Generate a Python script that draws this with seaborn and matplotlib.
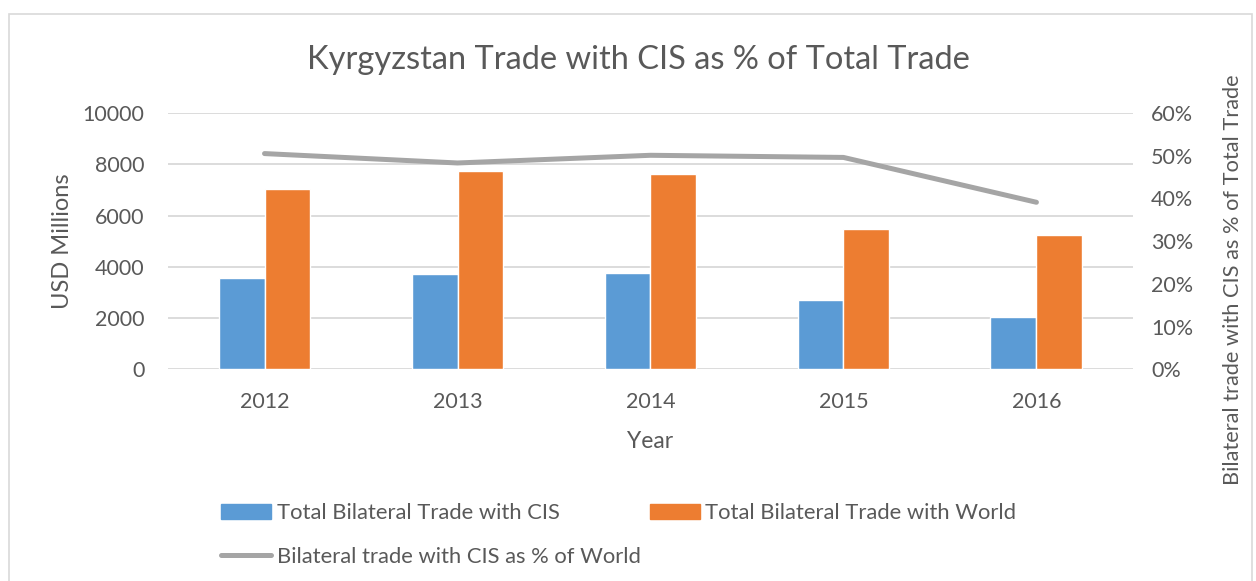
import matplotlib.pyplot as plt
import seaborn as sns
import pandas as pd
from matplotlib.patches import Rectangle
from matplotlib.ticker import PercentFormatter

# Data
years = ["2012", "2013", "2014", "2015", "2016"]
cis_trade = [3555, 3711, 3773, 2695, 2031]
world_trade = [7043, 7746, 7617, 5492, 5234]
cis_share = [50.5, 48.3, 50.1, 49.6, 39.1]

series_names = ["Total Bilateral Trade with CIS", "Total Bilateral Trade with World"]
line_name = "Bilateral trade with CIS as % of World"
colors = ["#5B9BD5", "#ED7D31"]
line_color = "#A5A5A5"
text_color = "#595959"

sns.set_theme(style="white")
plt.rcParams["font.family"] = ["Lato", "DejaVu Sans"]

df = pd.DataFrame({
    "Year": years * 2,
    "Value": cis_trade + world_trade,
    "Series": [series_names[0]] * len(years) + [series_names[1]] * len(years),
})

fig = plt.figure(figsize=(12.56, 5.81), dpi=100)
ax = fig.add_axes([0.1338, 0.3644, 0.7682, 0.4411])

sns.barplot(data=df, x="Year", y="Value", hue="Series", palette=colors,
            width=0.476, ax=ax, legend=False, saturation=1)

ax.set_ylim(0, 10000)
ax.set_yticks(range(0, 10001, 2000))
ax.set_xlim(-0.5, 4.5)
ax.grid(axis="y", color="#D9D9D9", linewidth=1.3)
ax.set_axisbelow(True)
for s in ax.spines.values():
    s.set_visible(False)
ax.tick_params(axis="y", length=0, pad=17, labelsize=15.5, labelcolor=text_color)
ax.tick_params(axis="x", length=0, pad=16, labelsize=15.5, labelcolor=text_color)

# secondary axis with percentage line
ax2 = ax.twinx()
sns.pointplot(x=years, y=cis_share, ax=ax2, color=line_color, markers="",
              linewidth=3.6, errorbar=None)
for ln in ax2.lines:
    ln.set_solid_capstyle("round")
    ln.set_solid_joinstyle("round")
ax2.set_ylim(0, 60)
ax2.set_yticks(range(0, 61, 10))
ax2.yaxis.set_major_formatter(PercentFormatter(decimals=0))
ax2.set_xlim(-0.5, 4.5)
for s in ax2.spines.values():
    s.set_visible(False)
ax2.tick_params(axis="y", length=0, pad=13, labelsize=15.5, labelcolor=text_color)
ax2.grid(False)

ax.set_xlabel("Year", fontsize=16.5, color=text_color, labelpad=14)
ax.set_ylabel("USD Millions", fontsize=17, color=text_color, labelpad=7)
ax2.set_ylabel("Bilateral trade with CIS as % of Total Trade", fontsize=15.7,
               color=text_color)
ax2.yaxis.set_label_coords(1.093, 0.35)

fig.text(0.508, 0.897, "Kyrgyzstan Trade with CIS as % of Total Trade",
         ha="center", va="center", fontsize=23.5, color=text_color)

# legend: bars on the first row, line alone on the second
bar_handles = [Rectangle((0, 0), 1, 1, color=c) for c in colors]
line_handle = plt.Line2D([0], [0], color=line_color, linewidth=3.6,
                         solid_capstyle="round")
leg_kw = dict(frameon=False, fontsize=15.8, handlelength=2.3,
              handletextpad=0.25, loc="center left")
leg1 = fig.legend(bar_handles, series_names, ncol=2, columnspacing=4.1,
                  bbox_to_anchor=(0.160, 0.117), **leg_kw)
leg2 = fig.legend([line_handle], [line_name],
                  bbox_to_anchor=(0.160, 0.042), **leg_kw)
for leg in (leg1, leg2):
    for t in leg.get_texts():
        t.set_color(text_color)

# chart border
fig.patches.append(Rectangle((0.0068, -0.05), 0.99, 1.026, transform=fig.transFigure,
                             fill=False, edgecolor="#D9D9D9", linewidth=1.2))

fig.savefig("out.png", dpi=100)
